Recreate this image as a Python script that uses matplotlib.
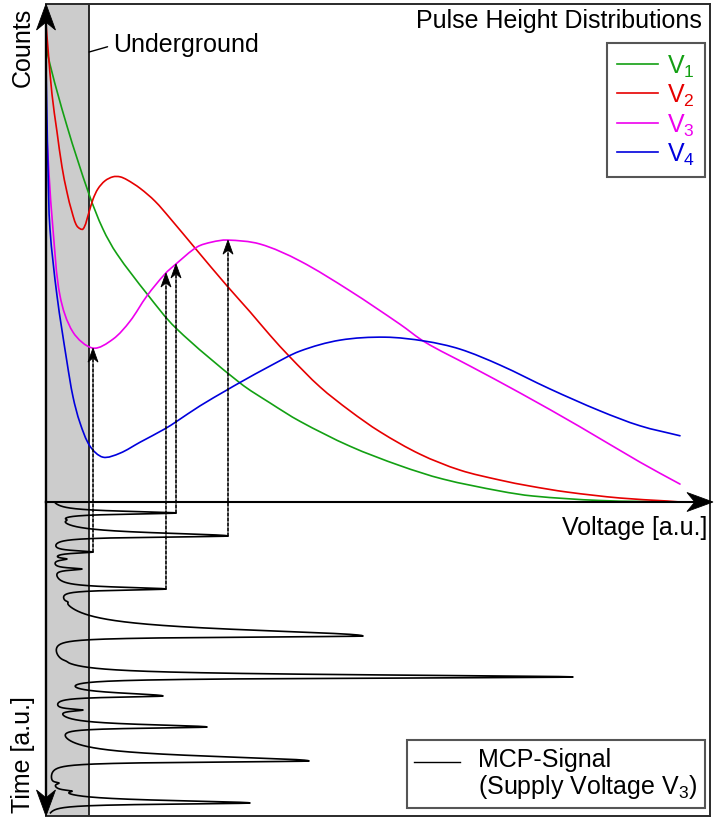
import numpy as np
import matplotlib
matplotlib.use('Agg')
import matplotlib.pyplot as plt
from matplotlib.path import Path
from matplotlib.lines import Line2D
from matplotlib.patches import ConnectionPatch, PathPatch, Polygon
from matplotlib.transforms import Affine2D, ScaledTranslation
from matplotlib.legend_handler import HandlerLine2D

plt.rcParams['font.family'] = ['Liberation Sans', 'DejaVu Sans']
plt.rcParams['mathtext.fontset'] = 'custom'
plt.rcParams['mathtext.rm'] = 'Liberation Sans'
plt.rcParams['mathtext.it'] = 'Liberation Sans:italic'

# ---------------- data ----------------
underground_limit = 0.65   # voltage below which pulses are "underground"

# Pulse height distributions (voltage [a.u.], counts [a.u.])
v1_volt = [0, 0.03, 0.316, 0.648, 0.858, 1.069, 1.521, 1.958, 2.922, 3.373, 3.825,
           4.578, 5.331, 5.979, 6.837, 7.334, 8.343, 9.548]
v1_counts = [9.40, 8.96, 7.55, 6.18, 5.48, 4.98, 4.18, 3.49, 2.39, 1.99, 1.62,
             1.12, 0.73, 0.46, 0.22, 0.12, 0.03, 0.0]

v2_volt = [0, 0.03, 0.09, 0.166, 0.241, 0.316, 0.392, 0.467, 0.557, 0.648, 0.708, 0.783,
           0.889, 1.009, 1.114, 1.220, 1.416, 1.642, 1.867, 2.244, 2.726, 3.072, 3.373,
           3.675, 4.127, 4.578, 5.030, 5.633, 6.235, 6.837, 7.289, 7.846, 8.645, 9.352,
           9.548]
v2_counts = [9.60, 9.10, 8.19, 7.43, 6.73, 6.22, 5.82, 5.54, 5.48, 5.82, 6.08, 6.29,
             6.45, 6.53, 6.53, 6.47, 6.30, 6.04, 5.70, 5.10, 4.34, 3.82, 3.35,
             2.91, 2.31, 1.83, 1.41, 0.96, 0.64, 0.44, 0.32, 0.20, 0.08, 0.02,
             0.0]

v3_volt = [0, 0.045, 0.105, 0.211, 0.407, 0.708, 1.009, 1.265, 1.521, 1.792,
           1.958, 2.274, 2.5, 2.726, 3.223, 3.825, 4.578, 5.331, 5.708, 6.386, 7.139,
           8.042, 8.946, 9.548]
v3_counts = [7.69, 6.59, 5.48, 4.14, 3.41, 3.09, 3.27, 3.63, 4.14, 4.58,
             4.78, 5.12, 5.22, 5.26, 5.18, 4.84, 4.24, 3.57, 3.21, 2.73, 2.19,
             1.51, 0.80, 0.36]

v4_volt = [0, 0.015, 0.03, 0.06, 0.166, 0.316, 0.407, 0.512, 0.663, 0.858,
           1.114, 1.416, 1.792, 1.958, 2.319, 2.726, 2.922, 3.373, 3.825, 4.428, 5.105,
           5.708, 6.235, 6.837, 7.59, 8.343, 8.946, 9.548]
v4_counts = [8.76, 7.69, 6.69, 5.48, 4.14, 2.81, 2.11, 1.59, 1.12, 0.90,
             0.98, 1.20, 1.47, 1.61, 1.93, 2.25, 2.40, 2.73, 3.03, 3.25, 3.31,
             3.23, 3.07, 2.75, 2.27, 1.83, 1.53, 1.33]

series_labels = [r'V$_\mathregular{1}$', r'V$_\mathregular{2}$',
                 r'V$_\mathregular{3}$', r'V$_\mathregular{4}$']
series_colors = ['#13a013', '#e60000', '#ee00ee', '#0000dd']

# MCP signal at supply voltage V3: individual pulses (time [a.u.], peak height = voltage [a.u.])
pulse_time = [0.350, 0.573, 1.083, 1.592, 1.815, 2.134, 2.771, 3.185, 4.268, 5.064,
              5.573, 6.178, 6.624, 7.166, 8.248, 8.949, 9.204, 9.586]
pulse_height = [1.958, 0.316, 2.741, 0.708, 0.316, 0.542, 1.807, 0.331, 4.774, 0.301,
                7.937, 1.762, 0.557, 2.425, 3.961, 0.196, 0.392, 3.072]
pulse_rise = [0.067, 0.035, 0.124, 0.05, 0.035, 0.04, 0.07, 0.035, 0.255, 0.035,
              0.086, 0.12, 0.04, 0.096, 0.194, 0.03, 0.035, 0.099]
pulse_fall = 0.045
marked_pulses = [3, 6, 0, 2]   # pulses whose heights are projected onto V3 distribution

# ---------------- figure ----------------
W, H = 715, 820
fig = plt.figure(figsize=(W / 100, H / 100), dpi=100)


def rect(l, t, r, b):
    return [l / W, 1 - b / H, (r - l) / W, (b - t) / H]


def fx(px):
    return px / W


def fy(py):
    return 1 - py / H


ax1 = fig.add_axes(rect(46, 5, 710, 503))
ax2 = fig.add_axes(rect(46, 503, 710, 817))
for ax in (ax1, ax2):
    ax.patch.set_visible(False)
    ax.set_xlim(0, 10)
    ax.set_xticks([])
    ax.set_yticks([])
    for s in ax.spines.values():
        s.set_visible(False)
    ax.axvspan(0, underground_limit, color='#cccccc', zorder=0, lw=0)
    ax.axvline(underground_limit, color='#1a1a1a', lw=1.3, zorder=1)
ax1.set_ylim(0, 10)
ax2.set_ylim(10, 0)
ax1.set_zorder(2)

frame_c = '#2a2a2a'
for sp in (ax1.spines['top'], ax1.spines['right'], ax2.spines['right'], ax2.spines['bottom']):
    sp.set_visible(True)
    sp.set_color(frame_c)
    sp.set_linewidth(1.4)

# scale of data units in pixels (for geometric smoothing)
SX = 664 / 10.0
SY = 498 / 10.0


def smooth_path(x, y):
    """Smooth cubic Bezier path passing through every given point."""
    P = np.column_stack([np.asarray(x, float) * SX, np.asarray(y, float) * SY])
    n = len(P)
    d = np.linalg.norm(np.diff(P, axis=0), axis=1)
    T = np.zeros_like(P)
    T[0] = (P[1] - P[0]) / d[0]
    T[-1] = (P[-1] - P[-2]) / d[-1]
    for i in range(1, n - 1):
        T[i] = (P[i + 1] - P[i - 1]) / (d[i - 1] + d[i])
    verts = [P[0]]
    codes = [Path.MOVETO]
    for i in range(n - 1):
        c1 = P[i] + T[i] * d[i] / 3
        c2 = P[i + 1] - T[i + 1] * d[i] / 3
        verts += [c1, c2, P[i + 1]]
        codes += [Path.CURVE4] * 3
    verts = np.array(verts) / np.array([SX, SY])
    return Path(verts, codes)


handles = []
for V, C, col in zip([v1_volt, v2_volt, v3_volt, v4_volt],
                     [v1_counts, v2_counts, v3_counts, v4_counts], series_colors):
    ax1.add_patch(PathPatch(smooth_path(V, C), facecolor='none', edgecolor=col,
                            lw=1.2, zorder=3, capstyle='round', joinstyle='round'))
    handles.append(Line2D([], [], color=col, lw=1.2))


# MCP signal: sum of asymmetric Lorentzian pulses, amplitudes chosen so that
# the summed signal reaches the observed peak heights at the pulse times
def pulse_shape(dt, wr):
    w = np.where(dt < 0, wr, pulse_fall)
    return 1.0 / (1 + (dt / w) ** 2)


pt = np.array(pulse_time)
M = np.array([[pulse_shape(np.array(ti - tj), wj) for tj, wj in zip(pt, pulse_rise)] for ti in pt])
amps = np.linalg.solve(M, np.array(pulse_height))

t = np.linspace(0.04, 9.9, 8000)
sig = np.zeros_like(t)
for t0, A, wr in zip(pt, amps, pulse_rise):
    sig += A * pulse_shape(t - t0, wr)
ax2.plot(sig, t, color='black', lw=1.2, zorder=3)


def arrow_head(ax, x, y, coords, direction, length, half_w, notch=0.7):
    v = np.array([[0, 0], [-half_w, -length], [0, -notch * length], [half_w, -length]], float)
    ang = {'up': 0, 'down': np.pi, 'right': -np.pi / 2}[direction]
    R = np.array([[np.cos(ang), -np.sin(ang)], [np.sin(ang), np.cos(ang)]])
    v = v @ R.T
    tr = Affine2D().scale(fig.dpi / 100.0) + ScaledTranslation(x, y, coords)
    p = Polygon(v, closed=True, transform=tr, facecolor='black', edgecolor='black',
                lw=0.6, clip_on=False, zorder=8, joinstyle='miter')
    ax.add_patch(p)


# axes arrows
ax1.plot([0, 0], [0, 0.99], transform=ax1.transAxes, color='black', lw=1.7, clip_on=False, zorder=4)
arrow_head(ax1, 0, 1, ax1.transAxes, 'up', 26, 9.5)
ax1.plot([0, 0.99], [0, 0], transform=ax1.transAxes, color='black', lw=1.5, clip_on=False, zorder=4)
arrow_head(ax1, 1.0045, 0, ax1.transAxes, 'right', 26, 9.5)
ax2.plot([0, 0], [1, 0.02], transform=ax2.transAxes, color='black', lw=1.7, clip_on=False, zorder=4)
arrow_head(ax2, 0, 0, ax2.transAxes, 'down', 26, 9.5)

# projection arrows
for i in marked_pulses:
    a = pulse_height[i]
    ctop = float(np.interp(a, v3_volt, v3_counts))
    con = ConnectionPatch(xyA=(a, pulse_time[i]), coordsA=ax2.transData,
                          xyB=(a, ctop - 0.12), coordsB=ax1.transData,
                          color='black', lw=1.2, linestyle=(0, (1.8, 1.2)), zorder=6)
    fig.add_artist(con)
    arrow_head(ax1, a, ctop, ax1.transData, 'up', 14, 5)

# texts
fs = 18
fig.text(fx(702), fy(28), 'Pulse Height Distributions', ha='right', va='baseline', fontsize=fs)
fig.text(fx(707), fy(535), 'Voltage [a.u.]', ha='right', va='baseline', fontsize=fs)
fig.text(fx(23), fy(47), 'Counts', rotation=90, ha='center', va='center', fontsize=fs)
fig.text(fx(23), fy(755), 'Time [a.u.]', rotation=90, ha='center', va='center', fontsize=fs)
ax1.annotate('Underground', xy=(underground_limit, (503 - 53) / 49.8),
             xytext=((113 - 46) / 66.4, (503 - 52) / 49.8), textcoords='data',
             ha='left', va='baseline', fontsize=fs,
             arrowprops=dict(arrowstyle='-', color='black', lw=1.0, relpos=(0, 0.45),
                             shrinkA=2, shrinkB=0))


class RaisedLine(HandlerLine2D):
    def __init__(self, shift, **kw):
        super().__init__(**kw)
        self.shift = shift

    def create_artists(self, *args, **kwargs):
        arts = super().create_artists(*args, **kwargs)
        for a in arts:
            a.set_ydata(np.asarray(a.get_ydata(), float) + self.shift)
        return arts


# legends
leg1 = ax1.legend(handles, series_labels, loc='upper right', bbox_to_anchor=(fx(705), fy(44)),
                  bbox_transform=fig.transFigure, borderaxespad=0, fontsize=fs, fancybox=False,
                  framealpha=1, edgecolor='#555555', handlelength=1.65, handletextpad=0.35,
                  borderpad=0.4, labelspacing=0.12, labelcolor='linecolor')
leg1.get_frame().set_linewidth(1.5)
mcp_handle = Line2D([], [], color='black', lw=1.0)
leg2 = ax2.legend([mcp_handle],
                  ['MCP-Signal\n(Supply Voltage V$_\\mathregular{3}$)'],
                  loc='lower right', bbox_to_anchor=(fx(705), fy(809)), bbox_transform=fig.transFigure,
                  borderaxespad=0, fontsize=fs, fancybox=False, framealpha=1, edgecolor='#555555',
                  handlelength=1.85, handletextpad=0.7, borderpad=0.3,
                  handler_map={mcp_handle: RaisedLine(9.0)})
for txt in leg2.get_texts():
    txt.set_linespacing(1.05)
leg2.get_frame().set_linewidth(1.5)

fig.savefig('out.png', dpi=100)
